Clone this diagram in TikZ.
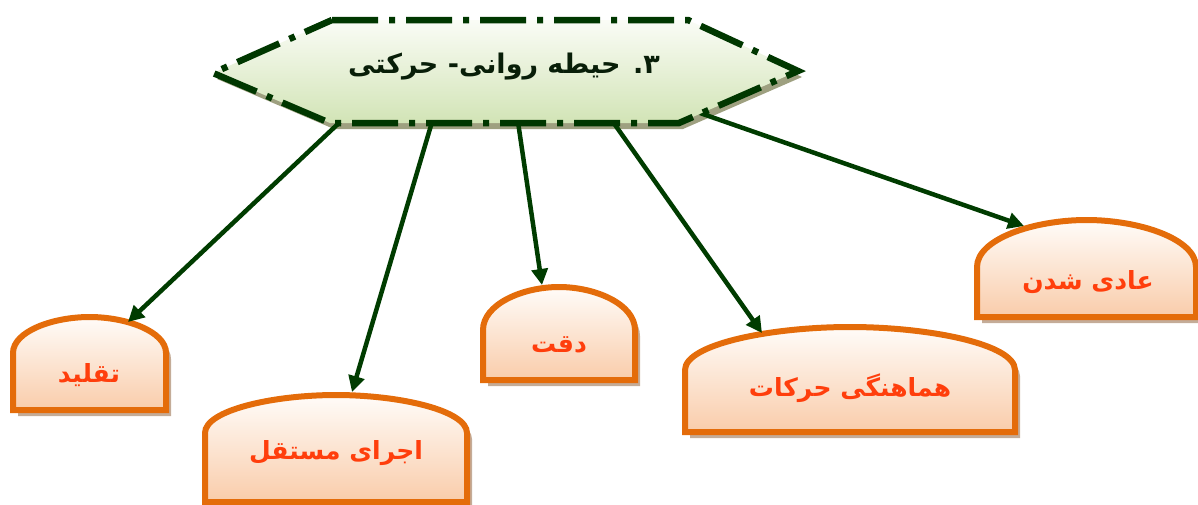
\documentclass[tikz,border=0pt]{standalone}
\usepackage{fontspec}
\newfontfamily\fa[Script=Arabic]{DejaVu Sans}
\TeXXeTstate=1
\usetikzlibrary{arrows.meta}
\definecolor{hexborder}{RGB}{0,55,0}
\definecolor{hextop}{RGB}{250,252,246}
\definecolor{hexbot}{RGB}{210,228,182}
\definecolor{hexshadow}{RGB}{158,160,128}
\definecolor{headtext}{RGB}{8,30,8}
\definecolor{boxborder}{RGB}{228,108,10}
\definecolor{boxtop}{RGB}{255,252,249}
\definecolor{boxbot}{RGB}{249,204,170}
\definecolor{boxshadow}{RGB}{196,172,152}
\definecolor{boxtext}{RGB}{255,62,12}
\definecolor{arrowgreen}{RGB}{0,60,0}
% arch box path: L, R, top, side-top, bottom
\newcommand\archpath[5]{(#1,#5) -- (#1,#4) .. controls (#1,{#4-0.6*(#4-#3)}) and ({#1+0.26*(#2-#1)},#3) .. ({(#1+#2)/2},#3) .. controls ({#2-0.26*(#2-#1)},#3) and (#2,{#4-0.6*(#4-#3)}) .. (#2,#4) -- (#2,#5) -- cycle}
\begin{document}
\begin{tikzpicture}[x=1pt,y=-1pt,
  hexline/.style={draw=hexborder, line width=6.5pt, dash pattern=on 46pt off 11pt on 6pt off 11pt, top color=hextop, bottom color=hexbot},
  hexshade/.style={fill=hexshadow},
  boxline/.style={draw=boxborder, line width=6pt, top color=boxtop, bottom color=boxbot},
  boxshade/.style={fill=boxshadow},
  boxlabel/.style={text=boxtext, font=\fa\bfseries\fontsize{25}{30}\selectfont, inner sep=0pt},
  headlabel/.style={text=headtext, font=\fa\bfseries\fontsize{27}{32}\selectfont, inner sep=0pt},
  conn/.style={draw=arrowgreen, line width=4.5pt, -{Triangle[length=16pt,width=16pt]}}
]
\useasboundingbox (0,0) rectangle (1198,504);
% box shadows
\fill[boxshade, shift={(5,6)}] \archpath{13}{166}{317}{353}{410};
\fill[boxshade, shift={(5,6)}] \archpath{205}{467}{395}{433}{502};
\fill[boxshade, shift={(5,6)}] \archpath{483}{635}{287}{330}{380};
\fill[boxshade, shift={(5,6)}] \archpath{685}{1015}{327}{370}{432};
\fill[boxshade, shift={(5,6)}] \archpath{977}{1196}{220}{267}{317};
% boxes
\path[boxline] \archpath{13}{166}{317}{353}{410};
\path[boxline] \archpath{205}{467}{395}{433}{502};
\path[boxline] \archpath{483}{635}{287}{330}{380};
\path[boxline] \archpath{685}{1015}{327}{370}{432};
\path[boxline] \archpath{977}{1196}{220}{267}{317};
% hexagon shadow
\fill[hexshade, shift={(4,6)}] (332,20) -- (688,20) -- (798,71) -- (679,123) -- (330,123) -- (213,73) -- cycle;
% connector end points
\coordinate (s1) at (340,122);
\coordinate (s2) at (432,122);
\coordinate (s3) at (518,122);
\coordinate (s4) at (613,122);
\coordinate (s5) at (700,113);
\coordinate (e1) at (128,322);
\coordinate (e2) at (352,392);
\coordinate (e3) at (542,285);
\coordinate (e4) at (762,333);
\coordinate (e5) at (1024,226);
\draw[conn] (s1) -- (e1);
\draw[conn] (s2) -- (e2);
\draw[conn] (s3) -- (e3);
\draw[conn] (s4) -- (e4);
\draw[conn] (s5) -- (e5);
% hexagon
\path[hexline] (332,20) -- (688,20) -- (798,71) -- (679,123) -- (330,123) -- (213,73) -- cycle;
% labels
\node[headlabel] (head) at (504,67) {\beginR ۳. حیطه روانی- حرکتی\endR};
\node[boxlabel] (b1) at (89,375) {\beginR تقلید\endR};
\node[boxlabel] (b2) at (336,453) {\beginR اجرای مستقل\endR};
\node[boxlabel] (b3) at (559,345) {\beginR دقت\endR};
\node[boxlabel] (b4) at (850,388) {\beginR هماهنگی حرکات\endR};
\node[boxlabel] (b5) at (1088,282) {\beginR عادی شدن\endR};
\end{tikzpicture}
\end{document}
